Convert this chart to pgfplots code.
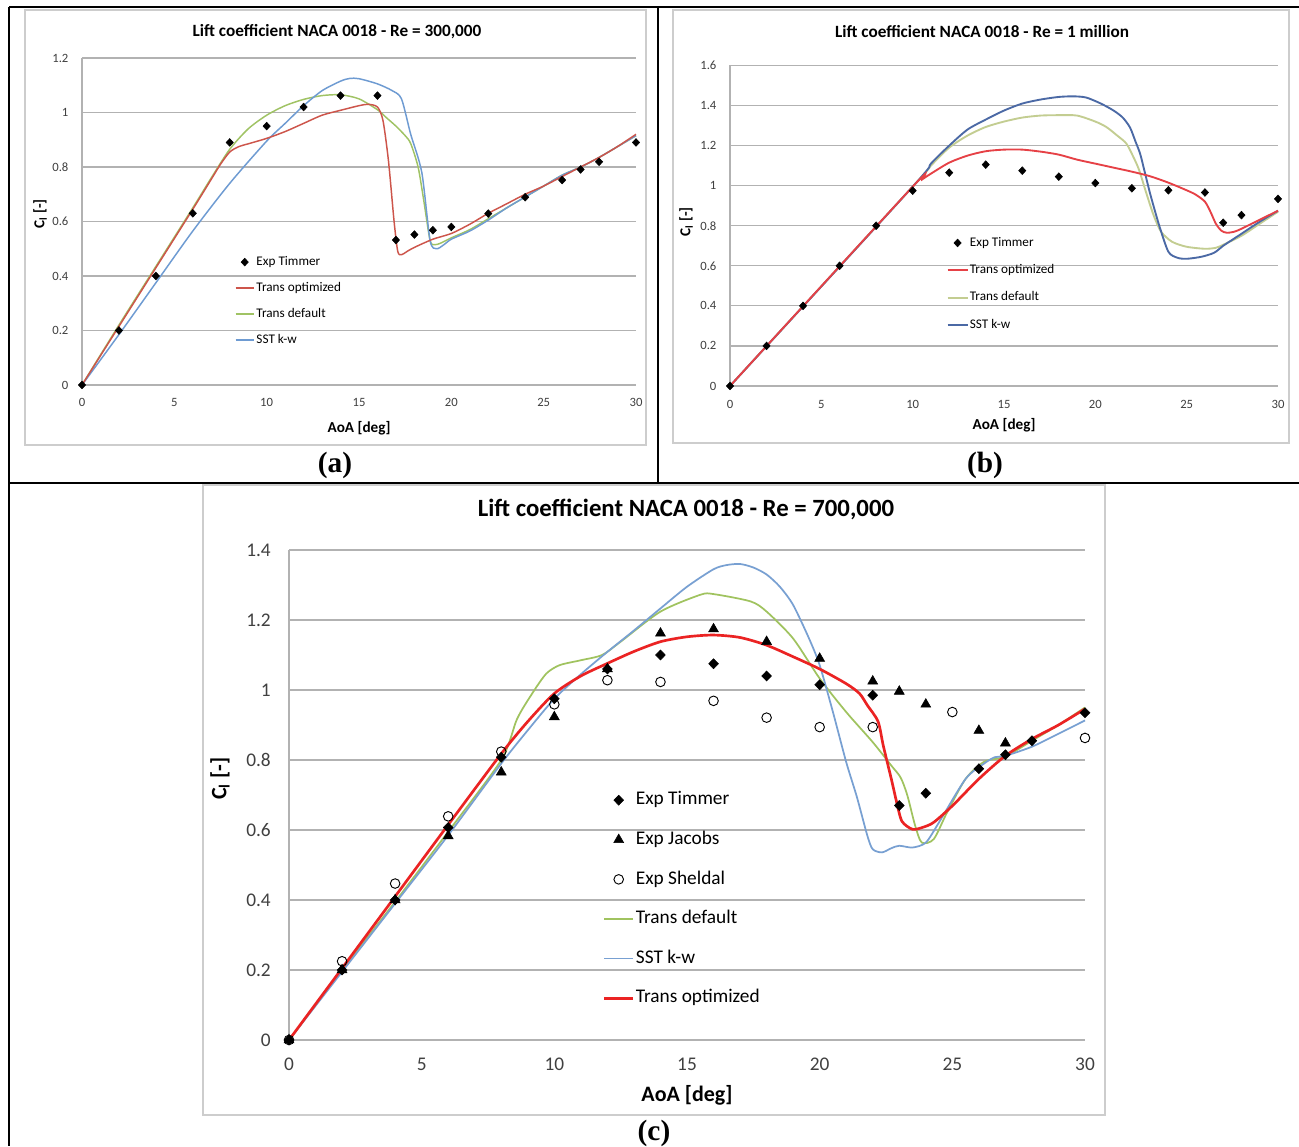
\documentclass[border=0pt]{standalone}
\usepackage{pgfplots}
\pgfplotsset{compat=1.18}
\usepackage{fontspec}
\setmainfont{Carlito}
\newfontfamily\tnr{Liberation Serif}
\newcommand{\fs}[1]{\fontsize{#1}{#1}\selectfont}

\definecolor{ablue}{RGB}{110,155,210}
\definecolor{agreen}{RGB}{160,195,100}
\definecolor{ared}{RGB}{205,85,75}
\definecolor{bblue}{RGB}{75,105,165}
\definecolor{bgreen}{RGB}{195,205,145}
\definecolor{bred}{RGB}{230,65,70}
\definecolor{cblue}{RGB}{120,160,210}
\definecolor{cgreen}{RGB}{160,195,95}
\definecolor{cred}{RGB}{235,35,35}
\definecolor{gridgray}{RGB}{178,178,178}
\definecolor{framegray}{RGB}{205,205,205}

\pgfplotsset{
  excel/.style={
    scale only axis, clip=false,
    xmin=0, xmax=30, enlargelimits=false,
    axis x line=bottom, axis y line=left,
    axis line style={draw=gridgray, line width=0.9pt, -},
    ymajorgrids, grid style={draw=gridgray, line width=0.9pt},
    major tick length=0pt,
    xtick={0,5,10,15,20,25,30},
    /pgf/number format/assume math mode=true,
    tick label style={text=black!75},
    legend cell align=left,
  },
  sm/.style={smooth, tension=0.45},
  linelegend/.style={legend image code/.code={\draw[##1] (0pt,0pt) -- (#1,0pt);}},
  marklegend/.style={legend image code/.code={\draw[mark repeat=2,mark phase=2,##1] plot coordinates {(0pt,0pt) (#1/2,0pt) (#1,0pt)};}},
}

\begin{document}
\begin{tikzpicture}
\path[use as bounding box, fill=white] (0pt,0pt) rectangle (974.25pt,859.5pt);

\begin{scope}[x=0.75pt,y=-0.75pt,shift={(0pt,859.5pt)}]
  % chart frames
  \draw[framegray, line width=1.1pt] (25,10) rectangle (646,445);
  \draw[framegray, line width=1.1pt] (673,10) rectangle (1289,443);
  \draw[framegray, line width=1.1pt] (203,485) rectangle (1105,1115);
  % table lines
  \draw[black, line width=1pt] (9,7) -- (1299,7);
  \draw[black, line width=1pt] (9,7) -- (9,1146);
  \draw[black, line width=1pt] (658,7) -- (658,483);
  \draw[black, line width=1pt] (9,483) -- (1299,483);
  % titles
  \node[font=\fs{12.9}\bfseries] at (337,32) {Lift coefficient NACA 0018 - Re = 300,000};
  \node[font=\fs{12.9}\bfseries] at (982,32) {Lift coefficient NACA 0018 - Re = 1 million};
  \node[font=\fs{18.6}\bfseries] at (686,509) {Lift coefficient NACA 0018 - Re = 700,000};
  % panel labels
  \node[font=\tnr\fs{22}\bfseries] at (335,465) {(a)};
  \node[font=\tnr\fs{22}\bfseries] at (985,465) {(b)};
  \node[font=\tnr\fs{22}\bfseries] at (654,1133) {(c)};
\end{scope}

%%%%%%%%%%%%%%%% (a)
\begin{axis}[excel,
  at={(61.5pt,570.75pt)}, anchor=origin,
  width=415.5pt, height=245.25pt,
  ymin=0, ymax=1.2,
  ytick={0,0.2,0.4,0.6,0.8,1,1.2},
  yticklabels={0,0.2,0.4,0.6,0.8,1,1.2},
  tick label style={font=\fs{9.5}},
  yticklabel style={inner sep=0pt, xshift=-10pt},
  xticklabel style={inner sep=0pt, yshift=-10pt},
  xlabel={AoA [deg]}, ylabel={C\textsubscript{l} [-]},
  label style={font=\fs{11.4}\bfseries},
  xlabel style={at={(axis description cs:0.5,-0.1315)}, anchor=center},
  ylabel style={at={(axis description cs:-0.0758,0.523)}, anchor=center},
  legend style={draw=none, fill=none, at={(axis cs:8.285,0.473)}, anchor=north west,
    inner sep=0pt, outer sep=0pt, row sep=10.5pt, column sep=1.5pt,
    nodes={inner sep=0pt, text height=7pt, text depth=2pt, font=\fs{9.9}}},
]
\addplot[agreen, line width=1.1pt, sm, forget plot] coordinates {
(0,0) (2,0.22) (4,0.435) (6,0.65) (7,0.76) (8,0.865) (9,0.94) (10,0.99) (11,1.025) (12,1.048) (13,1.062) (14,1.065) (15,1.05) (16,1.01) (16.5,0.98) (17,0.95) (17.5,0.915) (17.8,0.886) (18.2,0.80) (18.5,0.68) (18.85,0.53) (19.1,0.515) (19.4,0.52) (20,0.54) (21,0.57) (22,0.61) (23,0.65) (24,0.69) (25,0.73) (26,0.77) (27,0.80) (28,0.835) (30,0.915)};
\addplot[ablue, line width=1.1pt, sm, forget plot] coordinates {
(0,0) (2,0.185) (4,0.375) (6,0.565) (8,0.74) (10,0.895) (11,0.96) (12,1.025) (13,1.08) (14,1.115) (14.5,1.125) (15,1.124) (16,1.105) (16.8,1.08) (17.3,1.05) (17.8,0.92) (18.4,0.78) (18.85,0.53) (19.2,0.50) (19.6,0.515) (20,0.535) (21,0.565) (22,0.605) (23,0.65) (24,0.69) (25,0.73) (26,0.77) (27,0.80) (28,0.835) (30,0.915)};
\addplot[ared, line width=1.1pt, sm, forget plot] coordinates {
(0,0) (2,0.215) (4,0.43) (6,0.645) (7,0.755) (7.5,0.81) (8,0.855) (8.5,0.875) (9,0.885) (10,0.905) (11,0.93) (12,0.96) (13,0.99) (14,1.008) (15,1.025) (15.5,1.03) (16,1.02) (16.3,0.97) (16.6,0.82) (16.9,0.6) (17.1,0.49) (17.3,0.478) (17.6,0.49) (18,0.505) (19,0.535) (20,0.556) (21,0.59) (22,0.63) (23,0.665) (24,0.70) (25,0.73) (26,0.765) (27,0.80) (28,0.835) (29,0.875) (30,0.92)};
\addplot[only marks, mark=diamond*, mark size=2.9pt, mark options={xscale=1.25, fill=black, draw=black}, marklegend=13.5pt] coordinates {
(0,0) (2,0.2) (4,0.4) (6,0.63) (8,0.89) (10,0.95) (12,1.02) (14,1.062) (16,1.062) (17,0.532) (18,0.552) (19,0.568) (20,0.58) (22,0.629) (24,0.689) (26,0.752) (27,0.791) (28,0.819) (30,0.89)};
\addlegendentry{Exp Timmer}
\addlegendimage{ared, line width=1.1pt, linelegend=13.5pt}
\addlegendentry{Trans optimized}
\addlegendimage{agreen, line width=1.1pt, linelegend=13.5pt}
\addlegendentry{Trans default}
\addlegendimage{ablue, line width=1.1pt, linelegend=13.5pt}
\addlegendentry{SST k-w}
\end{axis}

%%%%%%%%%%%%%%%% (b)
\begin{axis}[excel,
  at={(547.5pt,570pt)}, anchor=origin,
  width=411pt, height=240.375pt,
  ymin=0, ymax=1.6,
  ytick={0,0.2,0.4,0.6,0.8,1,1.2,1.4,1.6},
  yticklabels={0,0.2,0.4,0.6,0.8,1,1.2,1.4,1.6},
  tick label style={font=\fs{9.5}},
  yticklabel style={inner sep=0pt, xshift=-10pt},
  xticklabel style={inner sep=0pt, yshift=-10.5pt},
  xlabel={AoA [deg]}, ylabel={C\textsubscript{l} [-]},
  label style={font=\fs{11.4}\bfseries},
  xlabel style={at={(axis description cs:0.5,-0.1217)}, anchor=center},
  ylabel style={at={(axis description cs:-0.0803,0.512)}, anchor=center},
  legend style={draw=none, fill=none, at={(axis cs:11.86,0.744)}, anchor=north west,
    inner sep=0pt, outer sep=0pt, row sep=11.5pt, column sep=1pt,
    nodes={inner sep=0pt, text height=7pt, text depth=2pt, font=\fs{9.9}}},
]
\addplot[bgreen, line width=1.4pt, sm, forget plot] coordinates {
(0,0) (10,0.995) (11,1.1) (12,1.19) (13,1.25) (14,1.293) (15,1.32) (16,1.34) (17,1.35) (18,1.352) (19,1.35) (20,1.32) (20.6,1.293) (21.2,1.25) (21.7,1.21) (22.1,1.14) (22.4,1.077) (22.8,0.96) (23.2,0.85) (23.6,0.77) (24.2,0.72) (25,0.695) (26,0.685) (26.6,0.69) (27,0.705) (28,0.75) (29,0.81) (30,0.87)};
\addplot[bblue, line width=1.4pt, sm, forget plot] coordinates {
(0,0) (10,0.995) (11,1.11) (12,1.2) (13,1.28) (14,1.33) (15,1.375) (16,1.41) (17,1.43) (18,1.443) (18.8,1.446) (19.5,1.44) (20.3,1.41) (21,1.375) (21.5,1.34) (21.9,1.29) (22.2,1.22) (22.45,1.16) (22.7,1.07) (23,0.96) (23.5,0.80) (24,0.67) (24.5,0.64) (25,0.635) (25.8,0.645) (26.5,0.665) (27,0.70) (27.5,0.73) (28,0.76) (29,0.82) (30,0.875)};
\addplot[bred, line width=1.4pt, sm, forget plot] coordinates {
(0,0) (10,0.995) (10.5,1.03) (11,1.06) (12,1.115) (13,1.15) (14,1.172) (15,1.18) (16,1.18) (17,1.17) (18,1.155) (19,1.13) (20,1.11) (21,1.09) (22,1.07) (23,1.047) (24,1.015) (25,0.977) (25.5,0.955) (26,0.92) (26.3,0.87) (26.6,0.81) (26.9,0.775) (27.2,0.765) (27.6,0.77) (28,0.785) (29,0.83) (30,0.875)};
\addplot[only marks, mark=diamond*, mark size=2.9pt, mark options={xscale=1.25, fill=black, draw=black}, marklegend=15pt] coordinates {
(0,0) (2,0.2) (4,0.4) (6,0.6) (8,0.8) (10,0.975) (12,1.065) (14,1.105) (16,1.075) (18,1.045) (20,1.013) (22,0.987) (24,0.977) (26,0.966) (27,0.815) (28,0.853) (30,0.934)};
\addlegendentry{Exp Timmer}
\addlegendimage{bred, line width=1.4pt, linelegend=15pt}
\addlegendentry{Trans optimized}
\addlegendimage{bgreen, line width=1.4pt, linelegend=15pt}
\addlegendentry{Trans default}
\addlegendimage{bblue, line width=1.4pt, linelegend=15pt}
\addlegendentry{SST k-w}
\end{axis}

%%%%%%%%%%%%%%%% (c)
\begin{axis}[excel,
  at={(216.75pt,79.5pt)}, anchor=origin,
  width=597pt, height=367.5pt,
  ymin=0, ymax=1.4,
  ytick={0,0.2,0.4,0.6,0.8,1,1.2,1.4},
  yticklabels={0,0.2,0.4,0.6,0.8,1,1.2,1.4},
  axis line style={draw=gridgray, line width=1.1pt, -},
  grid style={draw=gridgray, line width=1.1pt},
  tick label style={font=\fs{14.5}},
  yticklabel style={inner sep=0pt, xshift=-13.5pt},
  xticklabel style={inner sep=0pt, yshift=-13pt},
  xlabel={AoA [deg]}, ylabel={C\textsubscript{l} [-]},
  label style={font=\fs{16.5}\bfseries},
  xlabel style={at={(axis description cs:0.5,-0.1122)}, anchor=center},
  ylabel style={at={(axis description cs:-0.0867,0.533)}, anchor=center},
  legend style={draw=none, fill=none, at={(axis cs:11.83,0.71)}, anchor=north west,
    inner sep=0pt, outer sep=0pt, row sep=16.7pt, column sep=1pt,
    nodes={inner sep=0pt, text height=10pt, text depth=3pt, font=\fs{14.5}}},
]
\addplot[cgreen, line width=1.3pt, sm, forget plot] coordinates {
(0,0) (2,0.2) (4,0.395) (6,0.595) (8,0.8) (8.6,0.918) (9.2,0.994) (9.7,1.047) (10.2,1.071) (11,1.085) (11.8,1.1) (12.5,1.138) (14,1.224) (15.5,1.272) (16,1.274) (17.4,1.253) (18,1.224) (19,1.147) (20,1.033) (21,0.937) (22,0.851) (22.7,0.784) (23.05,0.75) (23.3,0.70) (23.6,0.612) (23.85,0.564) (24.3,0.574) (24.8,0.65) (25.5,0.746) (26.2,0.795) (27,0.81) (28,0.855) (29,0.9) (30,0.95)};
\addplot[cblue, line width=1.3pt, sm, forget plot] coordinates {
(0,0) (2,0.195) (4,0.39) (6,0.585) (8,0.79) (9,0.885) (10,0.975) (11,1.045) (12,1.109) (13,1.17) (14,1.233) (15,1.295) (16,1.345) (16.5,1.357) (17,1.36) (17.5,1.35) (18,1.33) (18.5,1.295) (19,1.243) (19.6,1.147) (20,1.071) (20.5,0.937) (21,0.794) (21.4,0.695) (21.8,0.583) (22,0.545) (22.35,0.536) (22.7,0.548) (23,0.555) (23.5,0.55) (24,0.564) (24.5,0.622) (25.5,0.746) (26.2,0.79) (26.6,0.808) (27,0.812) (28,0.838) (29,0.875) (30,0.913)};
\addplot[cred, line width=2pt, sm, forget plot] coordinates {
(0,0) (2,0.205) (4,0.41) (6,0.615) (8,0.818) (9,0.91) (10,0.99) (11,1.04) (12,1.076) (13,1.11) (14,1.138) (15,1.152) (16,1.157) (17,1.15) (18,1.128) (19,1.095) (20,1.06) (21,1.018) (21.5,0.99) (21.8,0.956) (22.2,0.91) (22.4,0.84) (22.7,0.746) (22.9,0.68) (23.1,0.625) (23.5,0.602) (23.9,0.608) (24.3,0.622) (25,0.669) (26,0.746) (27,0.812) (28,0.86) (29,0.9) (30,0.946)};
\addplot[only marks, mark=diamond*, mark size=3.75pt, mark options={xscale=1.3, fill=black, draw=black}, marklegend=21.75pt] coordinates {
(0,0) (2,0.2) (4,0.4) (6,0.607) (8,0.808) (10,0.975) (12,1.06) (14,1.10) (16,1.075) (18,1.04) (20,1.015) (22,0.985) (23,0.67) (24,0.705) (26,0.775) (27,0.815) (28,0.855) (30,0.935)};
\addlegendentry{Exp Timmer}
\addplot[only marks, mark=triangle*, mark size=4.3pt, mark options={fill=black, draw=black}, marklegend=21.75pt] coordinates {
(0,0) (2,0.2) (4,0.4) (6,0.583) (8,0.765) (10,0.923) (12,1.06) (14,1.162) (16,1.174) (18,1.138) (20,1.09) (22,1.025) (23,0.996) (24,0.959) (26,0.884) (27,0.848)};
\addlegendentry{Exp Jacobs}
\addplot[only marks, mark=o, mark size=3.6pt, mark options={draw=black, line width=0.7pt}, marklegend=21.75pt] coordinates {
(0,0) (2,0.225) (4,0.447) (6,0.639) (8,0.824) (10,0.959) (12,1.028) (14,1.023) (16,0.969) (18,0.921) (20,0.894) (22,0.894) (25,0.937) (30,0.863)};
\addlegendentry{Exp Sheldal}
\addlegendimage{cgreen, line width=1.3pt, linelegend=21.75pt}
\addlegendentry{Trans default}
\addlegendimage{cblue, line width=1.3pt, linelegend=21.75pt}
\addlegendentry{SST k-w}
\addlegendimage{cred, line width=2pt, linelegend=21.75pt}
\addlegendentry{Trans optimized}
\end{axis}
\end{tikzpicture}
\end{document}
